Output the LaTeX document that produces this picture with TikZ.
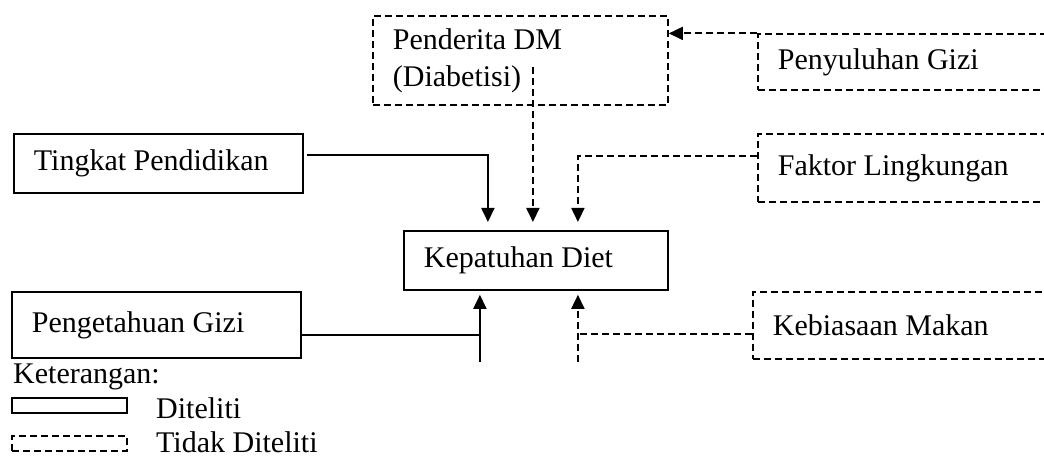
\documentclass[tikz,border=0pt]{standalone}
\usepackage{fontspec}
\setmainfont{Liberation Serif}
\usetikzlibrary{arrows.meta,calc}
\tikzset{
  box/.style={draw, line width=1.8pt, inner xsep=20pt, inner ysep=0pt, align=flush left,
    anchor=north west, font=\fontsize{30}{37}\selectfont},
  dbox/.style={box, dash pattern=on 7pt off 4pt},
  sline/.style={line width=1.8pt},
  dline/.style={line width=1.8pt, dash pattern=on 7pt off 4pt},
  arr/.style={-{Triangle[width=13pt,length=14pt]}},
  lbl/.style={anchor=base west, inner sep=0pt, font=\fontsize{30}{37}\selectfont}
}
\begin{document}
\begin{tikzpicture}[x=1pt,y=-1pt]
\useasboundingbox (0,0) rectangle (1044,457);
\clip (0,0) rectangle (1044,457);
% boxes
\node[box, text width=249pt, minimum height=59pt] (ting) at (13,133) {Tingkat Pendidikan};
\node[dbox, text width=255pt, minimum height=89pt] (pend) at (372,15) {Penderita DM\\(Diabetisi)};
\node[dbox, text width=280pt, minimum height=56pt] (peny) at (757,33) {Penyuluhan Gizi};
\node[dbox, text width=280pt, minimum height=68pt] (fakt) at (757,133) {Faktor Lingkungan};
\node[box, text width=224pt, minimum height=59pt] (kep) at (403,230) {Kepatuhan Diet};
\node[box, text width=249pt, minimum height=66pt] (peng) at (11,291) {Pengetahuan Gizi};
\node[dbox, text width=280pt, minimum height=67pt] (keb) at (752,291) {Kebiasaan Makan};
% connectors to Kepatuhan (top)
\draw[sline, arr] ([xshift=3pt,yshift=8.5pt]ting.east) -| ([xshift=-48pt,yshift=8pt]kep.north);
\draw[dline, arr] ([xshift=12.5pt,yshift=39pt]pend.south) -- ([xshift=-3pt,yshift=8pt]kep.north);
\draw[dline, arr] ([yshift=12pt]fakt.west) -| ([xshift=42pt,yshift=8pt]kep.north);
% Penyuluhan -> Penderita
\coordinate (p1) at ([yshift=28.5pt]peny.west);
\draw[dline, arr] (p1) -- (p1 -| pend.east);
% bottom connectors
\coordinate (qb) at ([xshift=-56pt,yshift=-71pt]kep.south);
\coordinate (q) at ([yshift=-10pt]peng.east);
\draw[sline, arr] (qb) -- ([xshift=-56pt,yshift=-4pt]kep.south);
\draw[sline] (q) -- (q -| qb);
\coordinate (rb) at ([xshift=42pt,yshift=-71pt]kep.south);
\coordinate (r) at ([yshift=-8.5pt]keb.west);
\draw[dline, arr] (rb) -- ([xshift=42pt,yshift=-4pt]kep.south);
\draw[dline] (r) -- (r -| rb);
% legend
\node[lbl] (ket) at (13,383) {Keterangan:};
\node[draw, line width=1.8pt, minimum width=115pt, minimum height=15pt, inner sep=0pt, anchor=north west] (l1) at (11,397) {};
\node[lbl] (t1) at (156,418) {Diteliti};
\node[draw, dash pattern=on 7pt off 4pt, line width=1.8pt, minimum width=115pt, minimum height=15pt, inner sep=0pt, anchor=north west] (l2) at (11,435) {};
\node[lbl] (t2) at (156,452) {Tidak Diteliti};
\end{tikzpicture}
\end{document}
